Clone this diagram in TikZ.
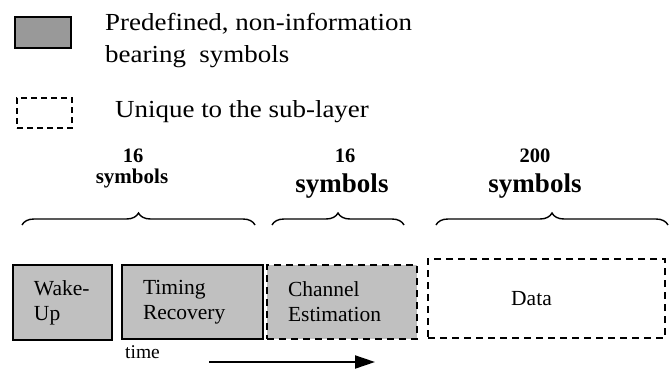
\documentclass[tikz,border=0pt]{standalone}
\usepackage{fontspec}
\setmainfont{Liberation Serif}
\newfontfamily\legendfont[FakeStretch=1.1]{Liberation Serif}
\usetikzlibrary{arrows.meta,decorations.pathreplacing}

\definecolor{legendgray}{HTML}{999999}
\definecolor{fieldgray}{HTML}{C0C0C0}

\tikzset{
	field/.style={draw, line width=1.6pt, fill=fieldgray, inner sep=0pt, align=left,
		font=\fontsize{21.5}{25}\selectfont},
	uniquefield/.style={field, dash pattern=on 7pt off 5pt},
	legend/.style={anchor=base west, inner sep=0pt, font=\legendfont\fontsize{24.5}{30}\selectfont},
	count/.style={anchor=base, inner sep=0pt, font=\bfseries\fontsize{20.5}{24}\selectfont},
	span/.style={decorate, decoration={brace, amplitude=12pt}, line width=1.4pt},
}

\begin{document}
\begin{tikzpicture}[x=1pt, y=-1pt]
		\useasboundingbox (0,0) rectangle (672,370);
		
		\node [draw, line width=1.5pt, fill=legendgray, minimum width=56pt, minimum height=31pt] (keyfixed) at (43,32.5) {};
		\node [legend] (keyfixedA) at (105,30) {Predefined, non-information};
		\node [legend] (keyfixedB) at (105,62) {bearing\ \ symbols};
		\node [draw, line width=1.5pt, dash pattern=on 6pt off 4pt, minimum width=55pt, minimum height=30pt] (keyunique) at (44.5,113) {};
		\node [legend] (keyuniqueA) at (115,117) {Unique to the sub-layer};
		
		\node [count] (wakecount) at (133,162) {16};
		\node [count, font=\bfseries\fontsize{21}{24}\selectfont] (wakeunit) at (132,183) {symbols};
		\node [count] (chancount) at (345,162) {16};
		\node [count, font=\bfseries\fontsize{27}{30}\selectfont] (chanunit) at (342,192) {symbols};
		\node [count] (datacount) at (535,162) {200};
		\node [count, font=\bfseries\fontsize{27}{30}\selectfont] (dataunit) at (535,192) {symbols};
		
		\draw [span] (22,225) -- (255,225);
		\draw [span] (272,225) -- (404,225);
		\draw [span] (436,225) -- (668,225);
		
		\node [field, minimum width=99pt, minimum height=75pt, text width=57pt] (wake) at (62.5,302.5) {Wake-\\Up};
		\node [field, minimum width=141pt, minimum height=74pt, text width=99pt] (timing) at (192.5,302) {Timing\\Recovery};
		\node [uniquefield, minimum width=150pt, minimum height=74pt, text width=108pt] (channel) at (342,302) {Channel\\Estimation};
		\node [uniquefield, fill=none, minimum width=237pt, minimum height=79pt] (data) at (546.5,298.5) {};
		\node [inner sep=0pt, font=\fontsize{21.5}{25}\selectfont] (datatext) at ([xshift=-15pt]data.center) {Data};
		
		\node [anchor=base west, inner sep=0pt, font=\fontsize{19.5}{22}\selectfont] (time) at (125,358) {time};
		\coordinate (tstart) at (209,362);
		\coordinate (tend) at (375,362);
		\draw [line width=2pt, -{Triangle[length=20pt, width=13pt]}] (tstart) -- (tend);
		
	\end{tikzpicture}
\end{document}
